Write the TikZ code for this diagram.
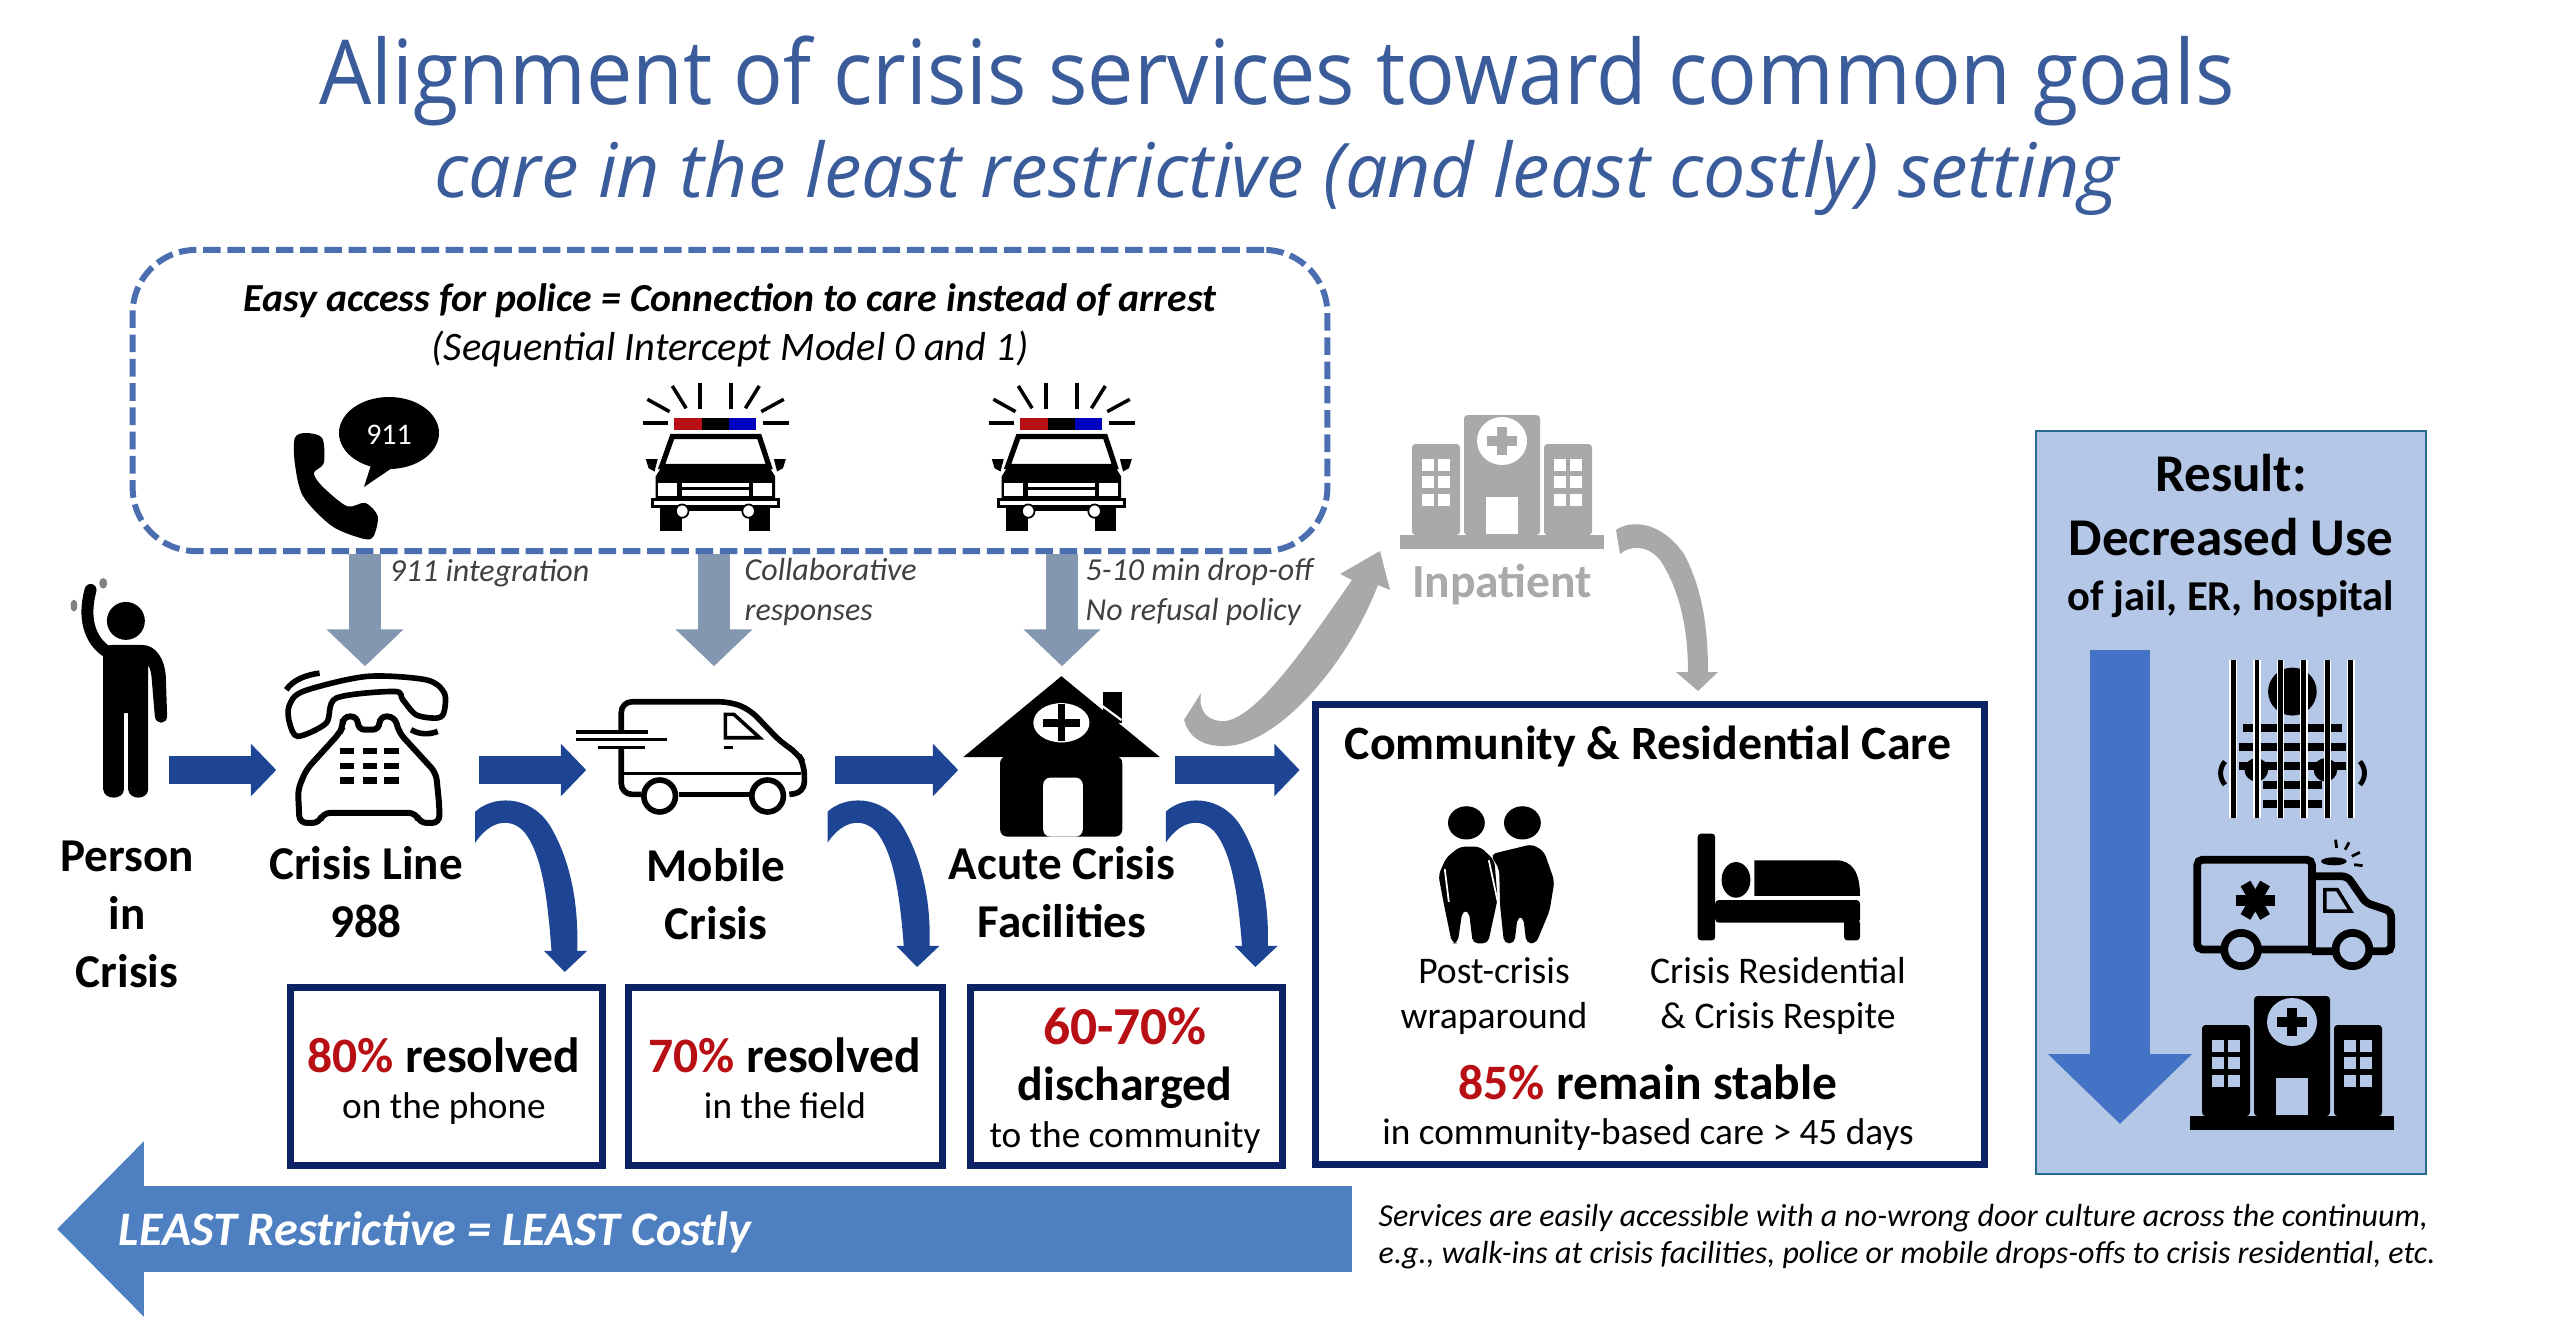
\documentclass[tikz,border=0pt]{standalone}
\usepackage{graphicx}
\usepackage{fontspec}
\setmainfont{Carlito}
\newfontfamily\titlefont{Open Sans}
\usetikzlibrary{positioning,arrows.meta,calc}
\definecolor{titleblue}{HTML}{3B5C9A}
\definecolor{flowblue}{HTML}{1D4594}
\definecolor{navyline}{HTML}{0B2265}
\definecolor{dashblue}{HTML}{4A6EB0}
\definecolor{policegray}{HTML}{8497B0}
\definecolor{inpatgray}{HTML}{A9A9A9}
\definecolor{statred}{HTML}{B80F14}
\definecolor{bandblue}{HTML}{4E7FC1}
\definecolor{panelblue}{HTML}{B4C7E7}
\definecolor{panelline}{HTML}{2A6C8F}
\definecolor{downblue}{HTML}{4472C4}
\definecolor{notegray}{HTML}{404040}
\newcommand\fs[2]{\fontsize{#1}{#2}\selectfont}
\newcommand\swoop[2]{%
  \begin{scope}[shift={(40,560)},x=.00829cm,y=-.00491cm,shift={(#1,0)}]
    \fill[flowblue] (525,512) .. controls (545,480) and (590,475) .. (615,540)
      .. controls (640,610) and (650,700) .. (648,{#2-43}) -- (660,{#2-43}) -- (633,#2)
      -- (608,{#2-43}) -- (617,{#2-43}) .. controls (612,680) and (605,600) .. (585,555)
      .. controls (570,525) and (545,525) .. (525,575) -- cycle;
  \end{scope}}
\newcommand\hospital[4]{%
  \begin{scope}[shift={(#1,#2)}]
    \fill[#3] (-102,-14) rectangle (102,0);
    \fill[#3,rounded corners=1pt] (-38,-14) rectangle (38,-134);
    \fill[#3,rounded corners=1pt] (-90,-14) rectangle (-42,-105);
    \fill[#3,rounded corners=1pt] (42,-14) rectangle (90,-105);
    \fill[#4] (0,-108) ellipse (25 and 24);
    \fill[#3] (-5,-122) rectangle (5,-94);
    \fill[#3] (-15,-113) rectangle (15,-103);
    \fill[#4] (-16,-52) rectangle (16,-15);
    \foreach \wy in {-90,-73,-55}
      \foreach \wx in {-80,-64,52,68}
        \fill[#4] (\wx,\wy) rectangle ++(12,12);
  \end{scope}}
\tikzset{
  policecar/.pic={
    \begin{scope}[x=.003953cm,y=-.003333cm,shift={(-393,0)}]
      \foreach \ra/\rb/\rc/\rd in {210/160/275/160,515/160/580/160,222/88/278/125,285/48/320/115,355/38/355/118,433/38/433/118,505/48/470/115,567/88/510/125}
        \draw[line width=1pt] (\ra,\rb) -- (\rc,\rd);
      \fill[statred] (290,145) rectangle (360,180);
      \fill[black] (360,145) rectangle (428,180);
      \fill[blue!75!black] (428,145) rectangle (497,180);
      \draw[line width=1.5pt,fill=white] (285,200) -- (505,200) -- (530,290) -- (258,290) -- cycle;
      \fill (258,290) -- (530,290) -- (545,320) -- (545,392) -- (243,392) -- (243,320) -- cycle;
      \fill (218,268) -- (248,268) -- (240,305) -- (225,295) -- cycle;
      \fill (572,268) -- (542,268) -- (550,305) -- (565,295) -- cycle;
      \fill[white] (250,340) rectangle (298,380);
      \fill[white] (490,340) rectangle (538,380);
      \fill[white] (310,340) rectangle (478,352);
      \fill[white] (310,362) rectangle (478,380);
      \draw[line width=.9pt,fill=white] (235,390) rectangle (553,410);
      \fill (255,410) rectangle (310,483);
      \fill (478,410) rectangle (533,483);
      \fill (310,410) rectangle (478,425);
      \draw[line width=.5pt,fill=white] (310,424) ellipse (16 and 20);
      \draw[line width=.5pt,fill=white] (478,424) ellipse (16 and 20);
    \end{scope}}
}
\begin{document}
\begin{tikzpicture}[x=.01cm,y=-.01cm,
    iconbox/.style={inner sep=0pt, minimum width=#1, minimum height=2.06cm},
    flowarr/.style={-{Triangle[width=14.5pt,length=7.2pt]}, line width=7.7pt, flowblue},
    policearr/.style={-{Triangle[width=21.3pt,length=10.5pt]}, line width=9.1pt, policegray},
    statbox/.style={draw=navyline, line width=2.1pt, inner sep=0pt, minimum width=#1, minimum height=1.78cm},
    servicelbl/.style={inner sep=0pt, align=center, font=\fs{13.4}{16.5}\bfseries},
    stat/.style={inner sep=0pt, font=\fs{14.1}{16}\bfseries},
    statsub/.style={inner sep=0pt, align=center, font=\fs{10.6}{13}},
    policelbl/.style={inner sep=0pt, align=left, anchor=west, text=notegray, font=\fs{9.1}{10.8}\itshape},
    careicon/.style={inner sep=0pt, align=center, font=\fs{10.7}{13}}
  ]
    \useasboundingbox (0,0) rectangle (2554,1330);

    \node[inner sep=0pt, text=titleblue, font=\titlefont\fs{25.5}{30}] (title) at (1277,81) {\scalebox{.921}[1]{Alignment of crisis services toward common goals}};
    \node[inner sep=0pt, text=titleblue, font=\titlefont\fs{21.4}{25}\itshape] (subtitle) at (1277,178) {care in the least restrictive (and least costly) setting};

    \node[draw=dashblue, line width=1.7pt, dash pattern=on 5pt off 1.9pt, rounded corners=18pt, minimum width=11.94cm, minimum height=3.01cm, inner sep=0pt] (intercept) at (730,400.5) {};
    \node[inner sep=0pt, font=\fs{11.3}{14}\bfseries\itshape] (access) at (730,301) {Easy access for police = Connection to care instead of arrest};
    \node[inner sep=0pt, font=\fs{11.5}{13}\itshape] (model) at (730,349) {(Sequential Intercept Model 0 and 1)};

    \node[inner sep=0pt, minimum width=1.2cm, minimum height=1.4cm] (call911) at (365,460) {};
    \fill (389,433) ellipse (50 and 36);
    \fill (372,462) -- (364,487) -- (392,468) -- cycle;
    \node[inner sep=0pt, text=white, font=\fs{8.5}{10}] (num911) at (389,435) {911};
    \begin{scope}[shift={(100,230)},x=.00829cm,y=-.003333cm]
      \fill plot[smooth cycle] coordinates {(235,625) (248,610) (268,625) (270,700) (258,730) (268,770) (298,830) (320,820) (335,860) (330,920) (318,928) (280,890) (245,800) (235,700)};
    \end{scope}
    \pic at (715,370) {policecar};
    \pic at (1061,370) {policecar};
    \coordinate (car1) at (714,460);
    \coordinate (car2) at (1062,460);

    % path icons of the flow row
    \node[iconbox=.86cm] (person) at (125,770) {};
    \begin{scope}[shift={(50,560)},x=.003333cm,y=-.003333cm]
      \fill (228,183) circle (57);
      \draw[line width=3.4pt, line cap=round] (122,90) .. controls (105,150) and (105,230) .. (170,275);
      \fill (160,275) .. controls (165,260) and (175,255) .. (190,255) -- (275,255) .. controls (320,255) and (345,300) .. (348,350)
        -- (352,470) .. controls (350,495) and (318,495) .. (315,470) -- (305,350) .. controls (303,330) and (298,320) .. (295,318)
        -- (295,690) .. controls (293,722) and (238,722) .. (235,690) -- (235,460) -- (222,460) -- (222,690)
        .. controls (220,722) and (163,722) .. (160,690) -- cycle;
      \fill[gray] (72,137) ellipse (10 and 18);
      \fill[gray] (160,70) ellipse (12 and 16);
    \end{scope}

    \node[iconbox=2.01cm] (crisisline) at (377.5,770) {};
    \begin{scope}[shift={(50,560)},x=.003333cm,y=-.003333cm]
      \draw[line width=1.6pt] plot[smooth cycle] coordinates {(745,530) (720,490) (718,440) (760,395) (950,350) (1130,360) (1185,400) (1183,460) (1160,475) (1100,465) (1060,420) (1035,395) (860,415) (830,490)};
      \draw[line width=1.7pt, rounded corners=2pt] (880,500) -- (880,470) -- (925,470) -- (925,510) -- (990,510) -- (990,470) -- (1035,470) -- (1050,520) -- (1160,640) -- (1170,740) -- (1170,790) -- (1110,790) -- (1100,760) -- (820,760) -- (810,790) -- (750,790) -- (745,690) -- (770,630) -- (870,520) -- cycle;
      \foreach \ky in {565,610,653}
        \foreach \kx in {870,940,1005}
          \fill (\kx,\ky) rectangle ++(44,19);
      \draw[line width=1.6pt] (710,390) .. controls (730,360) and (770,345) .. (810,340);
      \draw[line width=1.6pt] (1085,510) .. controls (1110,525) and (1140,525) .. (1165,515);
    \end{scope}

    \node[iconbox=2.47cm] (mobile) at (710.5,770) {};
    \begin{scope}[shift={(560,370)},x=.003953cm,y=-.003333cm]
      \draw[line width=1.6pt, rounded corners=3pt] (155,1090) -- (155,997) -- (430,997) -- (480,1020) -- (560,1120) -- (600,1150) -- (618,1185) -- (618,1270) -- (580,1275);
      \draw[line width=1.6pt, rounded corners=3pt] (155,1135) -- (155,1275) -- (205,1275);
      \draw[line width=1.6pt] (300,1275) -- (480,1275);
      \draw[line width=1pt] (160,1213) -- (610,1213);
      \draw[line width=1.6pt, fill=white] (252,1280) ellipse (40 and 48);
      \draw[line width=1.6pt, fill=white] (525,1280) ellipse (40 and 48);
      \draw[line width=1pt] (418,1105) -- (418,1035) -- (440,1035) -- (505,1105) -- cycle;
      \draw[line width=1pt] (415,1135) -- (438,1135);
      \draw[line width=1pt] (40,1088) -- (222,1088);
      \draw[line width=1pt] (40,1110) -- (270,1110);
      \draw[line width=1pt] (95,1135) -- (215,1135);
    \end{scope}

    \node[iconbox=2.15cm] (acute) at (1066.5,770) {};
    \begin{scope}[shift={(560,370)},x=.003953cm,y=-.003333cm]
      \fill (1372,968) rectangle (1420,1060);
      \draw[white, line width=.6pt] (1372,1010) -- (1420,1052);
      \fill (1268,920) -- (1020,1163) -- (1517,1163) -- cycle;
      \fill[rounded corners=2pt] (1113,1160) rectangle (1422,1402);
      \fill[white, rounded corners=2pt] (1222,1402) -- (1222,1225) -- (1322,1225) -- (1322,1402) -- cycle;
      \fill[white] (1268,1060) ellipse (71 and 59);
      \draw[line width=2.2pt] (1268,1005) -- (1268,1115);
      \draw[line width=2.2pt] (1222,1060) -- (1315,1060);
    \end{scope}

    % flow between the services
    \draw[flowarr] (person.east) -- (crisisline.west);
    \draw[flowarr] (crisisline.east) -- (mobile.west);
    \draw[flowarr] (mobile.east) -- (acute.west);
    \draw[policearr] (call911 |- intercept.south) -- (call911 |- crisisline.north);
    \draw[policearr] (car1 |- intercept.south) -- (car1 |- mobile.north);
    \draw[policearr] (car2 |- intercept.south) -- (car2 |- acute.north);
    \node[policelbl] (lbl911) at (389,573) {911 integration};
    \node[policelbl] (lblcollab) at (744,592) {Collaborative\\[.6pt]responses};
    \node[policelbl] (lbldrop) at (1085,592) {5-10 min drop-off\\[.6pt]No refusal policy};

    \swoop{0}{838}
    \swoop{425}{828}
    \swoop{833}{828}

    \node[servicelbl] (personlbl) at (127,914) {Person\\in\\Crisis};
    \node[servicelbl] (linelbl) at (366,892) {Crisis Line\\988};
    \node[servicelbl] (mobilelbl) at (716,894) {Mobile\\Crisis};
    \node[servicelbl] (acutelbl) at (1062,892) {Acute Crisis\\Facilities};

    \node[statbox=3.12cm] (box1) at (446.5,1076.5) {};
    \node[statbox=3.14cm] (box2) at (785.5,1076.5) {};
    \node[statbox=3.12cm] (box3) at (1126.5,1076.5) {};
    \node[stat] (stat1) at (444,1055) {\textcolor{statred}{80\%} resolved};
    \node[statsub] (sub1) at (444,1109) {on the phone};
    \node[stat] (stat2) at (785,1055) {\textcolor{statred}{70\%} resolved};
    \node[statsub] (sub2) at (785,1106) {in the field};
    \node[stat, text=statred, font=\fs{15.2}{18}\bfseries] (stat3) at (1125,1026) {60-70\%};
    \node[stat, font=\fs{13.6}{16}\bfseries] (disch) at (1125,1088) {discharged};
    \node[statsub] (sub3) at (1125,1138) {to the community};

    % care box and the inpatient detour
    \node[statbox=6.69cm, minimum height=4.6cm] (commbox) at (1650,934.5) {};
    \draw[flowarr, shorten >=3.4pt] (acute.east) -- (acute.east -| commbox.west);
    \node[inner sep=0pt, font=\fs{13.6}{16}\bfseries] (commtitle) at (1648,746) {Community \& Residential Care};
    \begin{scope}[shift={(1300,400)},x=.008cm,y=-.00593cm]
      \fill (208,712) ellipse (23 and 28);
      \fill (278,712) ellipse (23 and 28);
      \fill[rounded corners=1.5pt] (183,770) -- (200,752) -- (225,752) -- (243,775) -- (247,840) -- (235,915) -- (216,915) -- (211,860) -- (203,860) -- (197,915) -- (190,915) -- (180,850) -- (173,800) -- cycle;
      \fill[rounded corners=1.5pt] (238,765) -- (290,748) -- (305,760) -- (318,810) -- (312,860) -- (295,915) -- (283,915) -- (279,870) -- (272,870) -- (268,915) -- (255,915) -- (250,850) -- (249,790) -- cycle;
      \draw[white, line width=.5pt] (181,790) -- (186,845);
      \draw[white, line width=.5pt] (236,775) -- (248,850);
      \fill[rounded corners=1pt] (497,730) rectangle (519,910);
      \fill[rounded corners=1pt] (519,842) rectangle (700,880);
      \fill[rounded corners=1pt] (680,875) rectangle (700,910);
      \fill (545,808) ellipse (18 and 30);
      \fill (568,835) -- (568,775) -- (670,775) .. controls (690,775) and (700,795) .. (700,835) -- cycle;
    \end{scope}
    \node[careicon] (postcrisis) at (1494,996) {Post-crisis\\wraparound};
    \node[careicon] (respite) at (1778,996) {Crisis Residential\\\& Crisis Respite};
    \node[stat] (stable) at (1648,1082) {\textcolor{statred}{85\%} remain stable};
    \node[statsub] (stablesub) at (1648,1135) {in community-based care > 45 days};

    \hospital{1502}{549}{inpatgray}{white}
    \node[inner sep=0pt, text=inpatgray, font=\fs{13.5}{15}\bfseries] (inpatient) at (1502,585) {Inpatient};
    \fill[inpatgray] (1201,693) .. controls (1198,712) and (1208,722) .. (1226,721) .. controls (1260,715) and (1310,640) .. (1352,580)
      -- (1340,574) -- (1380,551) -- (1390,590) -- (1378,585) .. controls (1345,670) and (1275,745) .. (1226,746)
      .. controls (1200,747) and (1188,735) .. (1184,720) -- cycle;
    \fill[inpatgray] (1616,530) .. controls (1630,520) and (1660,520) .. (1684,554) .. controls (1703,590) and (1708,630) .. (1708,672)
      -- (1718,672) -- (1698,691) -- (1676,672) -- (1688,672) .. controls (1688,630) and (1680,590) .. (1660,560)
      .. controls (1648,545) and (1630,545) .. (1620,554) -- cycle;

    % least restrictive band
    \coordinate (bandstart) at (1352,1229);
    \coordinate (bandtip) at (57,1229);
    \draw[-{Triangle[width=48.4pt,length=24.7pt]}, line width=24.5pt, bandblue] (bandstart) -- (bandtip);
    \node[inner sep=0pt, text=white, font=\fs{13.7}{15}\bfseries\itshape] (bandlbl) at (435,1232) {LEAST Restrictive = LEAST Costly};
    \node[inner sep=0pt, anchor=west, align=left, font=\fs{9.1}{10.6}\itshape] (note) at (1378,1236.5) {Services are easily accessible with a no-wrong door culture across the continuum,\\e.g., walk-ins at crisis facilities, police or mobile drops-offs to crisis residential, etc.};

    % result panel
    \node[draw=panelline, fill=panelblue, line width=.6pt, minimum width=3.9cm, minimum height=7.43cm, inner sep=0pt] (result) at (2231,802.5) {};
    \node[inner sep=0pt, align=center, font=\fs{15.1}{18}\bfseries] (resulttitle) at (2231,505) {Result:\\Decreased Use};
    \node[inner sep=0pt, font=\fs{12.1}{14}\bfseries] (resultsub) at (2231,599) {of jail, ER, hospital};
    \coordinate (downstart) at (2120,650);
    \coordinate (downtip) at (2120,1124);
    \draw[-{Triangle[width=39.8pt,length=19.9pt]}, line width=17pt, downblue] (downstart) -- (downtip);
    \begin{scope}[shift={(2150,640)},x=.003378cm,y=-.003333cm]
      \fill (422,155) ellipse (72 and 72);
      \foreach \sy/\sa/\sb in {265/275/570,322/265/580,378/265/580,435/335/510,492/335/510}
        \fill (\sa,\sy-12) rectangle (\sb,\sy+12);
      \fill (315,390) circle (35);
      \fill (520,390) circle (35);
      \draw[line width=1.4pt] (222,365) .. controls (205,385) and (205,415) .. (222,435);
      \draw[line width=1.4pt] (622,365) .. controls (640,385) and (640,415) .. (622,435);
      \foreach \bx in {247,317,387,456,526,595}{
        \draw[white, line width=2.2pt] (\bx,60) -- (\bx,535);
        \draw[line width=1.4pt] (\bx,60) -- (\bx,535);
      }
      \draw[line width=2.2pt, rounded corners=1.5pt] (480,930) -- (140,930) -- (140,660) -- (480,660) -- (480,930);
      \draw[line width=2.2pt, rounded corners=1.5pt] (480,710) -- (585,710) -- (640,790) -- (715,815) -- (715,935) -- (480,935);
      \draw[fill=panelblue, line width=2.2pt] (270,930) circle (50);
      \draw[fill=panelblue, line width=2.2pt] (600,930) circle (50);
      \foreach \aa in {0,60,120}
        \draw[line width=3.2pt] ($(312,782)+(\aa:58)$) -- ($(312,782)+(\aa+180:58)$);
      \draw[line width=1pt] (518,750) -- (555,750) -- (595,815) -- (518,815) -- cycle;
      \fill (545,665) ellipse (38 and 12);
      \foreach \ra/\rb/\rc/\rd in {550/600/553/625,590/608/578/630,622/638/598/650,630/678/605/675}
        \draw[line width=.8pt] (\ra,\rb) -- (\rc,\rd);
    \end{scope}
    \hospital{2292}{1130}{black}{panelblue}
\end{tikzpicture}
\end{document}
